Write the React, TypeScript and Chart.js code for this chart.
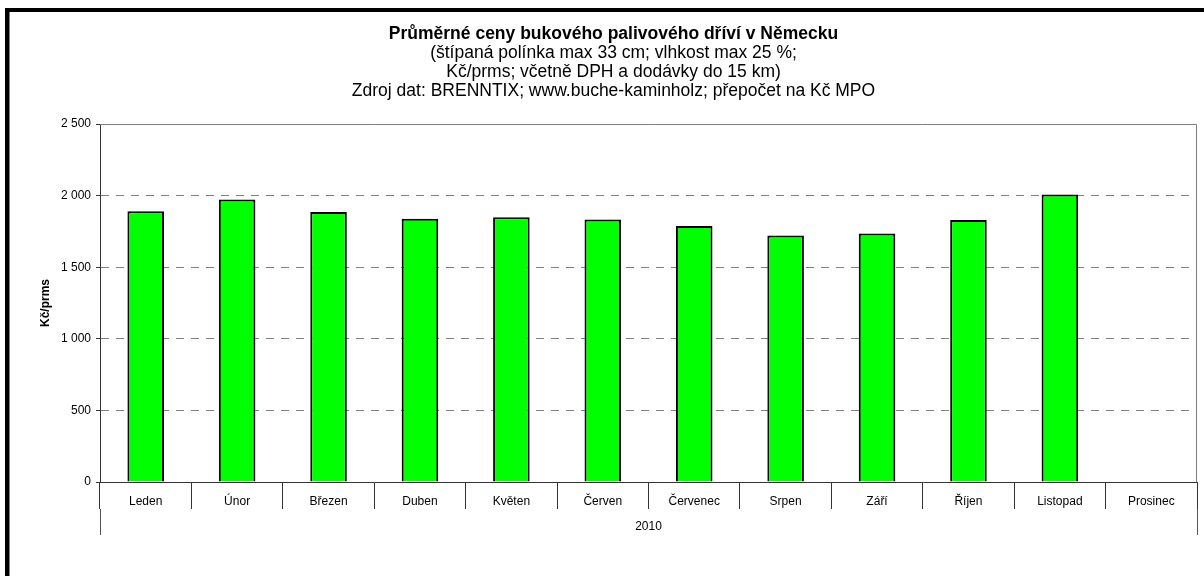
import { useEffect, useRef } from 'react';
import { Chart, registerables } from 'chart.js';

Chart.register(...registerables);

const months = ['Leden', 'Únor', 'Březen', 'Duben', 'Květen', 'Červen', 'Červenec', 'Srpen', 'Září', 'Říjen', 'Listopad', 'Prosinec'];
const prices: (number | null)[] = [1891, 1972, 1886, 1838, 1848, 1833, 1787, 1721, 1735, 1830, 2008, null];
const yearLabels = ['2010'];
const titleText = 'Průměrné ceny bukového palivového dříví v Německu';
const subtitleLines = [
  '(štípaná polínka max 33 cm; vlhkost max 25 %;',
  'Kč/prms; včetně DPH a dodávky do 15 km)',
  'Zdroj dat: BRENNTIX; www.buche-kaminholz; přepočet na Kč MPO',
];
const yAxisTitle = 'Kč/prms';
const yMin = 0;
const yMax = 2500;
const yStep = 500;

const FONT = '"Liberation Sans", Arial, sans-serif';

const fmt = (v: number) => String(v).replace(/\B(?=(\d{3})+(?!\d))/g, ' ');

const framePlugin = {
  id: 'frame',
  beforeDraw(chart: any) {
    const ctx = chart.ctx;
    ctx.save();
    ctx.fillStyle = '#ffffff';
    ctx.fillRect(0, 0, chart.width, chart.height);
    ctx.fillStyle = '#000000';
    ctx.fillRect(5, 8, chart.width, 4);
    ctx.fillRect(5, 8, 4.5, chart.height);
    ctx.restore();
  },
  beforeDatasetsDraw(chart: any) {
    const { ctx, chartArea } = chart;
    ctx.save();
    ctx.strokeStyle = '#808080';
    ctx.lineWidth = 1;
    ctx.beginPath();
    ctx.moveTo(chartArea.left, chartArea.top + 0.5);
    ctx.lineTo(chartArea.right - 0.5, chartArea.top + 0.5);
    ctx.lineTo(chartArea.right - 0.5, chartArea.bottom);
    ctx.stroke();
    ctx.restore();
  },
};

export default function App() {
  const ref = useRef<HTMLCanvasElement>(null);

  useEffect(() => {
    if (!ref.current) return;
    Chart.defaults.font.family = FONT;
    Chart.defaults.color = '#000';
    const chart = new Chart(ref.current, {
      type: 'bar',
      data: {
        labels: months,
        datasets: [
          {
            data: prices,
            backgroundColor: '#00ff00',
            borderColor: '#000000',
            borderWidth: 2,
            barPercentage: 0.4,
            categoryPercentage: 1,
            xAxisID: 'x',
            yAxisID: 'y',
          },
        ],
      },
      options: {
        responsive: false,
        animation: false,
        layout: { padding: { top: 25, left: 30, right: 7, bottom: 41 } },
        plugins: {
          legend: { display: false },
          tooltip: { enabled: false },
          title: {
            display: true,
            text: titleText,
            color: '#000',
            font: { size: 17.5, weight: 'bold', lineHeight: 19 / 17.5 },
            padding: { top: 0, bottom: 0 },
          },
          subtitle: {
            display: true,
            text: subtitleLines,
            color: '#000',
            font: { size: 17.5, weight: 'normal', lineHeight: 19 / 17.5 },
            padding: { top: 0, bottom: 23 },
          },
        },
        scales: {
          x: {
            type: 'category',
            position: 'bottom',
            weight: 0,
            offset: true,
            grid: {
              offset: true,
              drawOnChartArea: false,
              tickLength: 27,
              color: '#333',
              lineWidth: 1,
            },
            border: { color: '#333', width: 1 },
            ticks: { font: { size: 12 }, padding: -15, maxRotation: 0, autoSkip: false, color: '#000' },
            afterFit: (s: any) => { s.height = 27; },
          },
          x2: {
            type: 'category',
            labels: yearLabels,
            position: 'bottom',
            weight: 1,
            offset: true,
            grid: {
              offset: true,
              drawOnChartArea: false,
              tickLength: 26,
              color: '#555',
              lineWidth: 1,
            },
            border: { display: false },
            ticks: { font: { size: 12 }, padding: -16, maxRotation: 0, color: '#000' },
            afterFit: (s: any) => { s.height = 26; },
          },
          y: {
            type: 'linear',
            position: 'left',
            min: yMin,
            max: yMax,
            ticks: {
              stepSize: yStep,
              font: { size: 12 },
              padding: 5,
              color: '#000',
              callback: (v: any) => fmt(Number(v)),
            },
            grid: {
              color: (c: any) => (c.tick && (c.tick.value === yMin || c.tick.value === yMax) ? 'rgba(0,0,0,0)' : '#808080'),
              tickColor: '#333',
              tickLength: 4,
              lineWidth: 1,
            },
            border: { color: '#333', width: 1, dash: [8, 7] },
            title: {
              display: true,
              text: yAxisTitle,
              color: '#000',
              font: { size: 12, weight: 'bold' },
              padding: { top: 8, bottom: 0 },
            },
            afterFit: (s: any) => { s.width = 70; },
          },
        },
      },
      plugins: [framePlugin],
    } as any);
    return () => chart.destroy();
  }, []);

  return (
    <div style={{ position: 'fixed', left: 0, top: 0, width: 1204, height: 576 }}>
      <canvas ref={ref} width={1204} height={576} style={{ display: 'block' }} />
    </div>
  );
}
